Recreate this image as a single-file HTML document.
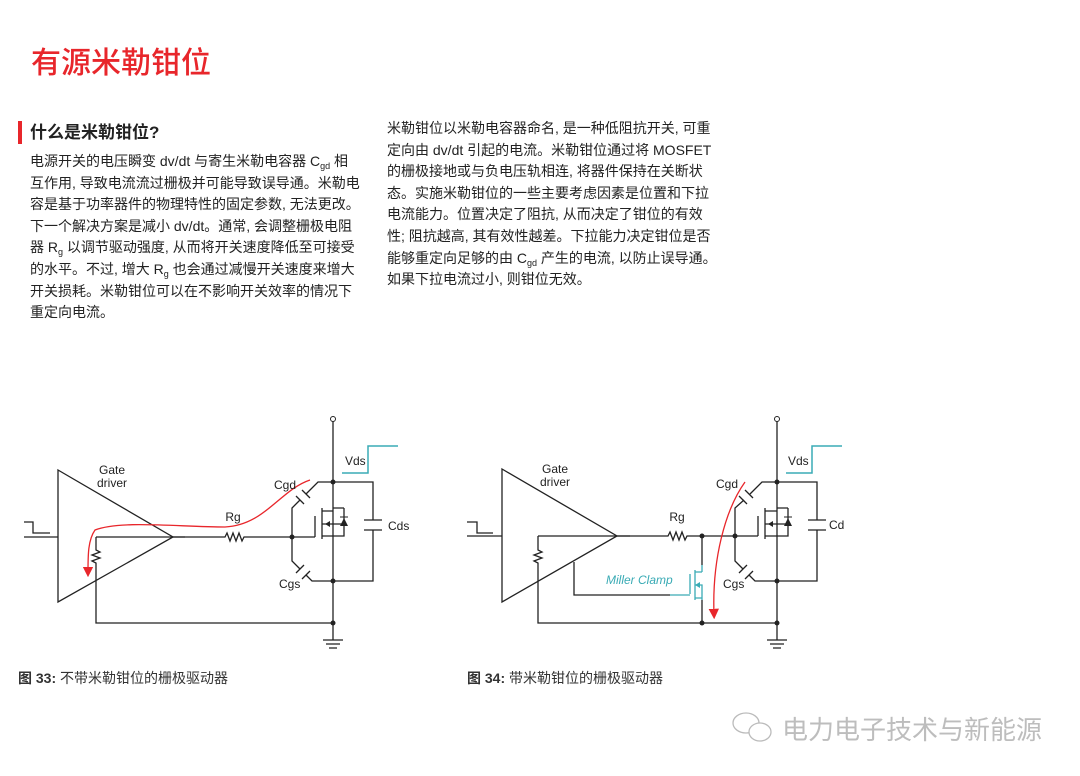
<!DOCTYPE html>
<html><head><meta charset="utf-8"><style>
html,body{margin:0;padding:0;background:#fff;width:1080px;height:776px;overflow:hidden;position:relative;font-family:"Liberation Sans","Noto Sans CJK SC",sans-serif;}
.t{position:absolute;white-space:nowrap;color:#222;}
.title{left:31px;top:38px;font-size:30px;color:#e8262b;font-weight:500;}
.h{left:30px;top:118px;font-size:17px;font-weight:bold;color:#222;}
.bar{position:absolute;left:18px;top:121px;width:4px;height:23px;background:#e8262b;}
.body{font-size:14px;line-height:21.6px;color:#222;}
sub{font-size:9px;vertical-align:-3px;line-height:0;}
.cap{font-size:14px;color:#333;}
</style></head><body>
<div class="t title">有源米勒钳位</div>
<div class="bar"></div>
<div class="t h">什么是米勒钳位?</div>
<div class="t body" style="left:30px;top:151px;">电源开关的电压瞬变 dv/dt 与寄生米勒电容器 C<sub>gd</sub> 相<br>互作用, 导致电流流过栅极并可能导致误导通。米勒电<br>容是基于功率器件的物理特性的固定参数, 无法更改。<br>下一个解决方案是减小 dv/dt。通常, 会调整栅极电阻<br>器 R<sub>g</sub> 以调节驱动强度, 从而将开关速度降低至可接受<br>的水平。不过, 增大 R<sub>g</sub> 也会通过减慢开关速度来增大<br>开关损耗。米勒钳位可以在不影响开关效率的情况下<br>重定向电流。</div>
<div class="t body" style="left:387px;top:118px;">米勒钳位以米勒电容器命名, 是一种低阻抗开关, 可重<br>定向由 dv/dt 引起的电流。米勒钳位通过将 MOSFET<br>的栅极接地或与负电压轨相连, 将器件保持在关断状<br>态。实施米勒钳位的一些主要考虑因素是位置和下拉<br>电流能力。位置决定了阻抗, 从而决定了钳位的有效<br>性; 阻抗越高, 其有效性越差。下拉能力决定钳位是否<br>能够重定向足够的由 C<sub>gd</sub> 产生的电流, 以防止误导通。<br>如果下拉电流过小, 则钳位无效。</div>

<svg style="position:absolute;left:0;top:0" width="1080" height="776" viewBox="0 0 1080 776">
<defs>
<marker id="ar" markerWidth="8" markerHeight="8" refX="4" refY="4" orient="auto"><path d="M0,0 L8,4 L0,8 z" fill="#e8262b"/></marker>
</defs>
<g fill="none" stroke="#222" stroke-width="1.3">
<path d="M24,522 H33 V533 H50"/>
<path d="M24,537 H58"/>
<path d="M58,470 L173,537 L58,602 Z"/>
<path d="M173,537 H225 l2,-4 l3,8 l3,-8 l3,8 l3,-8 l3,8 l2,-4 H315"/>
<path d="M96,537 H185"/>
<path d="M96,537 V550 l4,2 l-8,3 l8,3 l-8,3 l4,2 V623 H333"/>
<path d="M315,516 V537"/>
<path d="M322,508 V539"/>
<path d="M322,511 H333 M322,524 H344 M322,536 H333"/>
<path d="M344,508 V536 H333 M333,508 H344"/>
<path d="M333,421 V640"/>
<path d="M323,640 H343 M326,644 H340 M329,648 H337"/>
<path d="M333,482 H318 L306,494 M300,500 L292,508 V561 L300,569 M306,575 L312,581 H373 V530 M373,520 V482 H333"/>
<path d="M302,490 L310,498 M296,496 L304,504"/>
<path d="M296,573 L304,565 M302,579 L310,571"/>
<path d="M364,520 H382 M364,530 H382"/>
</g>
<circle cx="333" cy="419" r="2.5" fill="#fff" stroke="#222"/>
<g fill="#222"><circle cx="292" cy="537" r="2.5"/><circle cx="333" cy="482" r="2.5"/><circle cx="333" cy="581" r="2.5"/><circle cx="333" cy="623" r="2.5"/>
<path d="M325,524 L330,521 L330,527 Z"/><path d="M344,518 L340,526 H348 Z"/><path d="M340,517 H348" stroke="#222"/></g>
<path d="M342,473 H368 V446 H398" fill="none" stroke="#3aabb5" stroke-width="1.5"/>
<path d="M310,480 C280,490 265,525 225,527 C180,527 120,520 95,530 C88,540 88,555 88,572" fill="none" stroke="#e8262b" stroke-width="1.3" marker-end="url(#ar)"/>
<g font-family="Liberation Sans, sans-serif" font-size="12" fill="#222">
<text x="112" y="474" text-anchor="middle">Gate</text><text x="112" y="487" text-anchor="middle">driver</text>
<text x="233" y="521" text-anchor="middle">Rg</text>
<text x="274" y="489">Cgd</text><text x="279" y="588">Cgs</text><text x="388" y="530">Cds</text>
<text x="345" y="465">Vds</text>
</g>

<g fill="none" stroke="#222" stroke-width="1.3">
<path d="M467,522 H477 V533 H493"/>
<path d="M467,536 H502"/>
<path d="M502,469 L617,536 L502,602 Z"/>
<path d="M617,536 H668 l2,-4 l3,8 l3,-8 l3,8 l3,-8 l3,8 l2,-4 H758"/>
<path d="M538,536 H630"/>
<path d="M538,536 V550 l4,2 l-8,3 l8,3 l-8,3 l4,2 V623 H777"/>
<path d="M574,562 V595 H670"/>
<path d="M702,536 V565 M702,600 V623"/>
<path d="M758,516 V536"/>
<path d="M765,508 V539"/>
<path d="M765,511 H777 M765,524 H788 M765,536 H777"/>
<path d="M788,508 V536 H777 M777,508 H788"/>
<path d="M777,421 V640"/>
<path d="M767,640 H787 M770,644 H784 M773,648 H781"/>
<path d="M777,482 H762 L750,494 M744,500 L735,508 V561 L743,569 M749,575 L755,581 H817 V530 M817,520 V482 H777"/>
<path d="M745,490 L753,498 M739,496 L747,504"/>
<path d="M739,573 L747,565 M745,579 L753,571"/>
<path d="M808,520 H826 M808,530 H826"/>
</g>
<g fill="none" stroke="#3aabb5" stroke-width="1.3">
<path d="M670,595 H690 M690,574 V594 M695,570 V600 M695,572 H702 M695,585 H702 V600 M695,598 H702 M702,565 V572"/>
</g>
<path d="M695,585 L700,582 L700,588 Z" fill="#3aabb5"/>
<circle cx="777" cy="419" r="2.5" fill="#fff" stroke="#222"/>
<g fill="#222"><circle cx="702" cy="536" r="2.5"/><circle cx="735" cy="536" r="2.5"/><circle cx="777" cy="482" r="2.5"/><circle cx="777" cy="581" r="2.5"/><circle cx="777" cy="623" r="2.5"/><circle cx="702" cy="623" r="2.5"/>
<path d="M768,524 L773,521 L773,527 Z"/><path d="M788,518 L784,526 H792 Z"/><path d="M784,517 H792" stroke="#222"/></g>
<path d="M786,473 H812 V446 H842" fill="none" stroke="#3aabb5" stroke-width="1.5"/>
<path d="M745,482 C725,510 712,560 714,614" fill="none" stroke="#e8262b" stroke-width="1.3" marker-end="url(#ar)"/>
<g font-family="Liberation Sans, sans-serif" font-size="12" fill="#222">
<text x="555" y="473" text-anchor="middle">Gate</text><text x="555" y="486" text-anchor="middle">driver</text>
<text x="677" y="521" text-anchor="middle">Rg</text>
<text x="716" y="488">Cgd</text><text x="723" y="588">Cgs</text><text x="829" y="529">Cd</text>
<text x="788" y="465">Vds</text>
<text x="606" y="584" fill="#3aabb5" font-style="italic">Miller Clamp</text>
</g>
</svg>

<div class="t cap" style="left:18px;top:668px;"><b>图 33:</b> 不带米勒钳位的栅极驱动器</div>
<div class="t cap" style="left:467px;top:668px;"><b>图 34:</b> 带米勒钳位的栅极驱动器</div>

<svg style="position:absolute;left:730px;top:708px" width="50" height="40" viewBox="0 0 50 40">
<g fill="#fff" stroke="#bbb" stroke-width="1.3">
<ellipse cx="16" cy="15" rx="13" ry="10"/>
<ellipse cx="30" cy="24" rx="11" ry="9"/>
</g>
</svg>
<div class="t" style="left:782px;top:710px;font-size:26px;color:#bdbdbd;letter-spacing:0px;">电力电子技术与新能源</div>
</body></html>
